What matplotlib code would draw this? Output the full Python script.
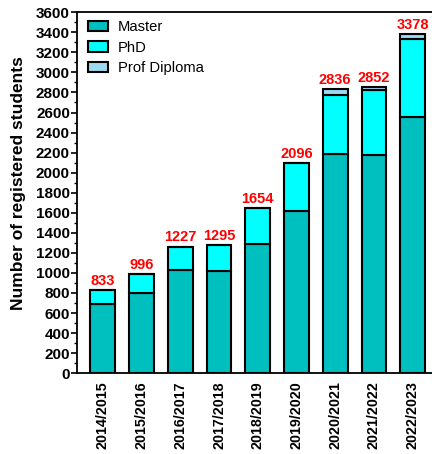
import matplotlib.pyplot as plt
import numpy as np

years = ['2014/2015', '2015/2016', '2016/2017', '2017/2018', '2018/2019',
         '2019/2020', '2020/2021', '2021/2022', '2022/2023']
master = [690, 800, 1030, 1015, 1290, 1617, 2183, 2180, 2556]
phd = [136, 186, 233, 263, 353, 476, 593, 643, 777]
prof = [0, 0, 0, 0, 0, 0, 57, 30, 50]
totals = [833, 996, 1227, 1295, 1654, 2096, 2836, 2852, 3378]

plt.rcParams['font.family'] = ['Liberation Sans', 'DejaVu Sans']

fig = plt.figure(figsize=(4.32, 4.54), dpi=100)
ax = fig.add_axes([0.178, 0.178, 0.822, 0.795])

x = np.arange(len(years))
master = np.array(master)
phd = np.array(phd)
prof = np.array(prof)
w = 0.64
kw = dict(width=w, edgecolor='black', linewidth=1.5)
ax.bar(x, master, color='#00BFBF', label='Master', **kw)
ax.bar(x, phd, bottom=master, color='#00FFFF', label='PhD', **kw)
ax.bar(x, prof, bottom=master + phd, color='#9DD8EE', label='Prof Diploma', **kw)

tops = master + phd + prof
for xi, top, t in zip(x, tops, totals):
    ax.text(xi, top + 25, str(t), ha='center', va='bottom', color='red',
            fontsize=10.5, fontweight='bold')

ax.set_xlim(-0.67, 8.5)
ax.set_ylim(0, 3600)
ax.set_yticks(np.arange(0, 3601, 200))
ax.set_yticks(np.arange(0, 3601, 100), minor=True)
ax.set_xticks(x)
ax.set_xticklabels(years, rotation=90, fontsize=10.3, fontweight='bold')
for lab in ax.get_yticklabels():
    lab.set_fontweight('bold')
    lab.set_fontsize(11)
ax.tick_params(axis='y', which='major', length=4, width=1.2, pad=1)
ax.tick_params(axis='y', which='minor', length=2, width=1)
ax.tick_params(axis='x', length=0, pad=6)
ax.spines['right'].set_visible(False)
for s in ['left', 'bottom', 'top']:
    ax.spines[s].set_linewidth(1.3)

ax.set_ylabel('Number of registered students', fontsize=12.5, fontweight='bold')
ax.yaxis.set_label_coords(-0.143, 0.527)

ax.legend(loc='upper left', frameon=False, fontsize=10.6, handlelength=1.3,
          handleheight=0.7, handletextpad=0.7, labelspacing=0.43,
          borderaxespad=0, borderpad=0.3, bbox_to_anchor=(0.02, 0.99))

fig.savefig('out.png', dpi=100)
